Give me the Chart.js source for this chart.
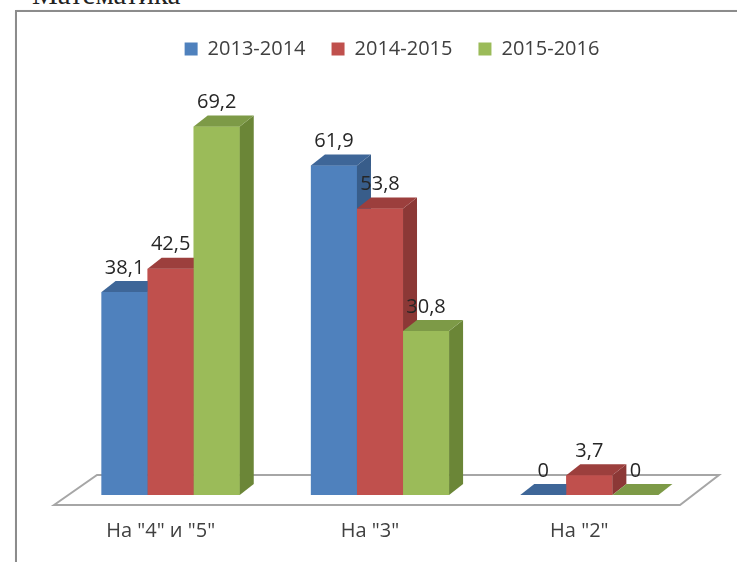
<!DOCTYPE html>
<html>
<head>
<meta charset="utf-8">
<script src="https://cdn.jsdelivr.net/npm/chart.js@4/dist/chart.umd.min.js"></script>
<style>
  html, body { margin: 0; background: #fff; width: 737px; height: 562px; overflow: hidden; }
  body { position: relative; }
  #title { position: absolute; left: 32px; top: -22px; font: 29px "Liberation Serif", serif; color: #222; white-space: nowrap; }
  #frame { position: absolute; left: 15px; top: 10px; width: 1000px; height: 900px; border: 2px solid #8c8c8c; box-shadow: 1px 1px 2px rgba(0,0,0,0.25); }
  #chart { position: absolute; left: 0; top: 0; }
</style>
</head>
<body>
<div id="title">Математика</div>
<div id="frame"></div>
<canvas id="chart" width="737" height="562"></canvas>
<script>
const categories = ['На "4" и "5"', 'На "3"', 'На "2"'];
const seriesNames = ['2013-2014', '2014-2015', '2015-2016'];
const values2013 = [38.1, 61.9, 0];
const values2014 = [42.5, 53.8, 3.7];
const values2015 = [69.2, 30.8, 0];

const frontColors = ['#4F81BD', '#C0504D', '#9BBB59'];
const topColors = ['#3E6698', '#9C3F3D', '#7D9A47'];
const sideColors = ['#385D8A', '#8C3836', '#6B8637'];

// depth of the fake 3d bars
const DX = 14, DY = 11;

function poly(ctx, pts, fill) {
  ctx.beginPath();
  ctx.moveTo(pts[0][0], pts[0][1]);
  for (let k = 1; k < pts.length; k++) ctx.lineTo(pts[k][0], pts[k][1]);
  ctx.closePath();
  ctx.fillStyle = fill;
  ctx.fill();
}

const depthPlugin = {
  id: 'depth',
  afterLayout(chart) {
    // legend sits a bit right of the plot centre in the original
    const lg = chart.legend;
    lg.left += 12;
    lg.right += 12;
  },
  beforeDatasetsDraw(chart) {
    const ctx = chart.ctx;
    const area = chart.chartArea;
    const base = chart.scales.y.getPixelForValue(0);
    ctx.save();
    ctx.beginPath();
    ctx.moveTo(area.left - 12, base + 10);
    ctx.lineTo(area.left + 31, base - 20);
    ctx.lineTo(area.right + 25, base - 20);
    ctx.lineTo(area.right - 14, base + 10);
    ctx.closePath();
    ctx.fillStyle = '#fff';
    ctx.fill();
    ctx.lineWidth = 2;
    ctx.strokeStyle = '#a6a6a6';
    ctx.stroke();
    ctx.restore();
  },
  afterDatasetsDraw(chart) {
    const ctx = chart.ctx;
    const metas = [0, 1, 2].map(i => chart.getDatasetMeta(i));
    ctx.save();
    // redraw each bar left to right so later bars cover earlier sides
    for (let j = 0; j < categories.length; j++) {
      metas.forEach((meta, i) => {
        const bar = meta.data[j];
        const p = bar.getProps(['x', 'y', 'base', 'width'], true);
        const l = p.x - p.width / 2, r = p.x + p.width / 2;
        bar.draw(ctx);
        poly(ctx, [[r, p.y], [r + DX, p.y - DY], [r + DX, p.base - DY], [r, p.base]], sideColors[i]);
        poly(ctx, [[l, p.y], [l + DX, p.y - DY], [r + DX, p.y - DY], [r, p.y]], topColors[i]);
      });
    }
    // value labels
    ctx.font = '20px "Open Sans", sans-serif';
    ctx.fillStyle = '#262626';
    ctx.textAlign = 'center';
    ctx.textBaseline = 'middle';
    metas.forEach((meta, i) => {
      const ds = chart.data.datasets[i];
      meta.data.forEach((bar, j) => {
        const p = bar.getProps(['x', 'y'], true);
        ctx.fillText(String(ds.data[j]).replace('.', ','), p.x, p.y - 24);
      });
    });
    ctx.restore();
  }
};

new Chart(document.getElementById('chart'), {
  type: 'bar',
  data: {
    labels: categories,
    datasets: [
      { label: seriesNames[0], data: values2013, backgroundColor: frontColors[0] },
      { label: seriesNames[1], data: values2014, backgroundColor: frontColors[1] },
      { label: seriesNames[2], data: values2015, backgroundColor: frontColors[2] }
    ]
  },
  options: {
    responsive: false,
    animation: false,
    datasets: { bar: { categoryPercentage: 0.66, barPercentage: 1, borderWidth: 0 } },
    layout: { padding: { left: 66, right: 43, top: 13, bottom: 0 } },
    scales: {
      y: { display: false, min: 0, max: 80 },
      x: {
        grid: { display: false, drawTicks: false },
        border: { display: false },
        ticks: { font: { family: '"Open Sans", sans-serif', size: 20 }, color: '#404040', padding: 24, labelOffset: -10 },
        afterFit(scale) { scale.height = 67; }
      }
    },
    plugins: {
      tooltip: { enabled: false },
      legend: {
        position: 'top',
        labels: { boxWidth: 13, boxHeight: 13, padding: 26, color: '#404040', font: { family: '"Open Sans", sans-serif', size: 20 } }
      }
    }
  },
  plugins: [depthPlugin]
});
</script>
</body>
</html>
